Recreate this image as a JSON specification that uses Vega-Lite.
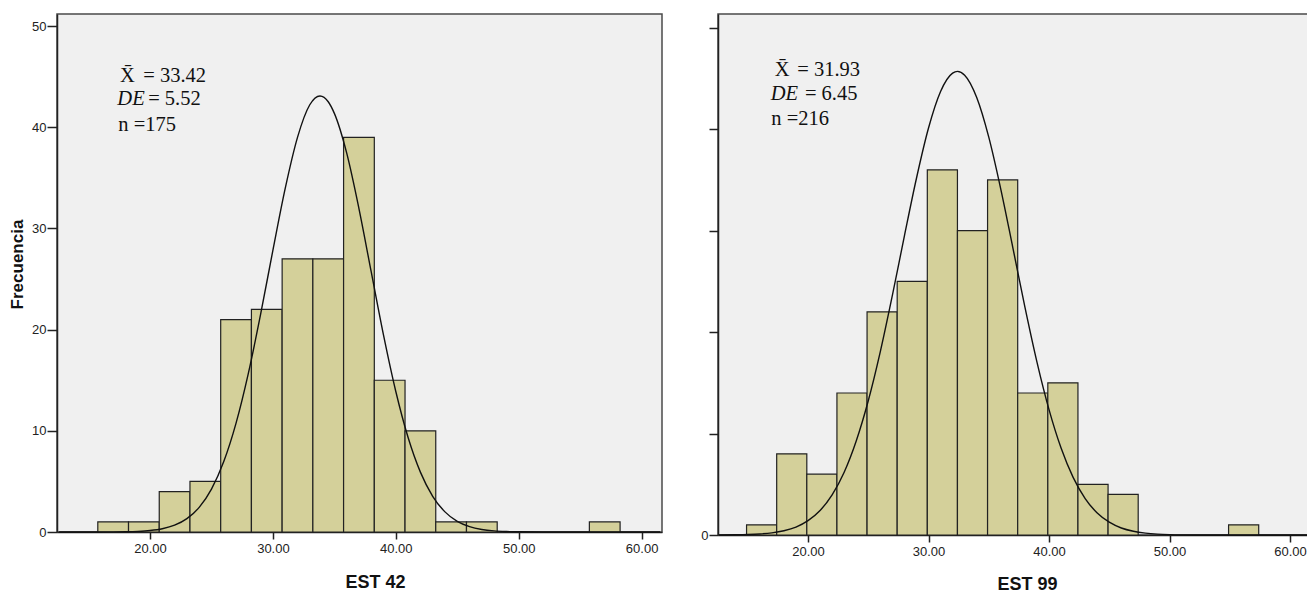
{
  "$schema": "https://vega.github.io/schema/vega-lite/v6.json",
  "background": "white",
  "padding": {"left": 7, "top": 13, "right": 0, "bottom": 0},
  "spacing": 36,
  "config": {
    "view": {"fill": "#F0F0F0", "stroke": "#4a4a4a", "strokeWidth": 1.5},
    "axis": {
      "grid": false,
      "labelFont": "Liberation Sans",
      "labelFontSize": 13,
      "labelColor": "#222222",
      "tickColor": "#222222",
      "domainColor": "#222222",
      "domainWidth": 1.5,
      "tickWidth": 1.5,
      "titleFont": "Liberation Sans",
      "titleFontWeight": "bold",
      "titleColor": "#111111"
    },
    "text": {"font": "Liberation Serif", "fontSize": 20.5, "color": "#111111", "align": "left", "baseline": "alphabetic"}
  },
  "datasets": {
    "est42_bins": [
      {"lo": 15.75, "hi": 18.25, "freq": 1},
      {"lo": 18.25, "hi": 20.75, "freq": 1},
      {"lo": 20.75, "hi": 23.25, "freq": 4},
      {"lo": 23.25, "hi": 25.75, "freq": 5},
      {"lo": 25.75, "hi": 28.25, "freq": 21},
      {"lo": 28.25, "hi": 30.75, "freq": 22},
      {"lo": 30.75, "hi": 33.25, "freq": 27},
      {"lo": 33.25, "hi": 35.75, "freq": 27},
      {"lo": 35.75, "hi": 38.25, "freq": 39},
      {"lo": 38.25, "hi": 40.75, "freq": 15},
      {"lo": 40.75, "hi": 43.25, "freq": 10},
      {"lo": 43.25, "hi": 45.75, "freq": 1},
      {"lo": 45.75, "hi": 48.25, "freq": 1},
      {"lo": 55.75, "hi": 58.25, "freq": 1}
    ],
    "est42_curve": [
      {"x": 12.6, "y": 0}, {"x": 15, "y": 0.001}, {"x": 16, "y": 0.003}, {"x": 17, "y": 0.009},
      {"x": 18, "y": 0.025}, {"x": 19, "y": 0.062}, {"x": 20, "y": 0.146}, {"x": 21, "y": 0.32},
      {"x": 22, "y": 0.67}, {"x": 23, "y": 1.32}, {"x": 24, "y": 2.43}, {"x": 25, "y": 4.24},
      {"x": 26, "y": 6.96}, {"x": 27, "y": 10.76}, {"x": 28, "y": 15.68}, {"x": 29, "y": 21.53},
      {"x": 30, "y": 27.86}, {"x": 31, "y": 33.96}, {"x": 32, "y": 39.01}, {"x": 33, "y": 42.23},
      {"x": 33.83, "y": 43.1}, {"x": 34.5, "y": 42.53}, {"x": 35, "y": 41.38}, {"x": 36, "y": 37.47},
      {"x": 37, "y": 31.97}, {"x": 38, "y": 25.7}, {"x": 39, "y": 19.46}, {"x": 40, "y": 13.89},
      {"x": 41, "y": 9.34}, {"x": 42, "y": 5.92}, {"x": 43, "y": 3.53}, {"x": 44, "y": 1.99},
      {"x": 45, "y": 1.05}, {"x": 46, "y": 0.53}, {"x": 47, "y": 0.25}, {"x": 48, "y": 0.11},
      {"x": 49, "y": 0.046}, {"x": 50, "y": 0.018}, {"x": 52, "y": 0.002}, {"x": 55, "y": 0},
      {"x": 61.5, "y": 0}
    ],
    "est99_bins": [
      {"lo": 14.9, "hi": 17.4, "freq": 1},
      {"lo": 17.4, "hi": 19.9, "freq": 8},
      {"lo": 19.9, "hi": 22.4, "freq": 6},
      {"lo": 22.4, "hi": 24.9, "freq": 14},
      {"lo": 24.9, "hi": 27.4, "freq": 22},
      {"lo": 27.4, "hi": 29.9, "freq": 25},
      {"lo": 29.9, "hi": 32.4, "freq": 36},
      {"lo": 32.4, "hi": 34.9, "freq": 30},
      {"lo": 34.9, "hi": 37.4, "freq": 35},
      {"lo": 37.4, "hi": 39.9, "freq": 14},
      {"lo": 39.9, "hi": 42.4, "freq": 15},
      {"lo": 42.4, "hi": 44.9, "freq": 5},
      {"lo": 44.9, "hi": 47.4, "freq": 4},
      {"lo": 54.9, "hi": 57.4, "freq": 1}
    ],
    "est99_curve": [
      {"x": 12.6, "y": 0.006}, {"x": 14, "y": 0.021}, {"x": 15, "y": 0.048}, {"x": 16, "y": 0.104},
      {"x": 17, "y": 0.213}, {"x": 18, "y": 0.42}, {"x": 19, "y": 0.78}, {"x": 20, "y": 1.41},
      {"x": 21, "y": 2.41}, {"x": 22, "y": 3.95}, {"x": 23, "y": 6.18}, {"x": 24, "y": 9.26},
      {"x": 25, "y": 13.23}, {"x": 26, "y": 18.08}, {"x": 27, "y": 23.62}, {"x": 28, "y": 29.49},
      {"x": 29, "y": 35.17}, {"x": 30, "y": 40.12}, {"x": 31, "y": 43.72}, {"x": 32, "y": 45.53},
      {"x": 32.4, "y": 45.7}, {"x": 33, "y": 45.33}, {"x": 34, "y": 43.13}, {"x": 35, "y": 39.22},
      {"x": 36, "y": 34.08}, {"x": 37, "y": 28.31}, {"x": 38, "y": 22.47}, {"x": 39, "y": 17.05},
      {"x": 40, "y": 12.36}, {"x": 41, "y": 8.57}, {"x": 42, "y": 5.68}, {"x": 43, "y": 3.59},
      {"x": 44, "y": 2.17}, {"x": 45, "y": 1.26}, {"x": 46, "y": 0.69}, {"x": 47, "y": 0.37},
      {"x": 48, "y": 0.19}, {"x": 49, "y": 0.09}, {"x": 50, "y": 0.041}, {"x": 52, "y": 0.007},
      {"x": 55, "y": 0}, {"x": 61.7, "y": 0}
    ],
    "one": [{}]
  },
  "hconcat": [
    {
      "width": 605,
      "height": 518,
      "layer": [
        {
          "data": {"name": "est42_bins"},
          "mark": {"type": "rect", "fill": "#D4D09A", "stroke": "#222222", "strokeWidth": 1.2},
          "encoding": {
            "x": {
              "field": "lo", "type": "quantitative",
              "scale": {"domain": [12.43, 61.66], "nice": false, "zero": false},
              "axis": {
                "values": [20, 30, 40, 50, 60], "format": ".2f", "tickSize": 7, "labelPadding": 3,
                "title": "EST 42", "titleFontSize": 18, "titleX": 318, "titleY": 41, "titleAnchor": null, "titleAlign": "center"
              }
            },
            "x2": {"field": "hi"},
            "y": {
              "field": "freq", "type": "quantitative",
              "scale": {"domain": [0, 51.2], "nice": false},
              "axis": {
                "values": [0, 10, 20, 30, 40, 50], "tickSize": 10, "labelPadding": 1,
                "title": "Frecuencia", "titleFontSize": 17, "titleX": -31, "titleY": 250, "titleAnchor": null, "titleAlign": "center"
              }
            },
            "y2": {"datum": 0}
          }
        },
        {
          "data": {"name": "est42_curve"},
          "mark": {"type": "line", "color": "#111111", "strokeWidth": 1.4, "interpolate": "monotone"},
          "encoding": {
            "x": {"field": "x", "type": "quantitative"},
            "y": {"field": "y", "type": "quantitative"}
          }
        },
        {
          "data": {"name": "one"},
          "mark": {"type": "text", "text": "X\u0304"},
          "encoding": {"x": {"datum": 17.56}, "y": {"datum": 44.47}}
        },
        {
          "data": {"name": "one"},
          "mark": {"type": "text", "text": "= 33.42"},
          "encoding": {"x": {"datum": 19.45}, "y": {"datum": 44.47}}
        },
        {
          "data": {"name": "one"},
          "mark": {"type": "text", "text": "DE", "fontStyle": "italic"},
          "encoding": {"x": {"datum": 17.34}, "y": {"datum": 42.16}}
        },
        {
          "data": {"name": "one"},
          "mark": {"type": "text", "text": "= 5.52"},
          "encoding": {"x": {"datum": 19.85}, "y": {"datum": 42.16}}
        },
        {
          "data": {"name": "one"},
          "mark": {"type": "text", "text": "n =175"},
          "encoding": {"x": {"datum": 17.42}, "y": {"datum": 39.62}}
        }
      ]
    },
    {
      "width": 593,
      "height": 521,
      "layer": [
        {
          "data": {"name": "est99_bins"},
          "mark": {"type": "rect", "fill": "#D4D09A", "stroke": "#222222", "strokeWidth": 1.2},
          "encoding": {
            "x": {
              "field": "lo", "type": "quantitative",
              "scale": {"domain": [12.53, 61.74], "nice": false, "zero": false},
              "axis": {
                "values": [20, 30, 40, 50, 60], "format": ".2f", "tickSize": 7, "labelPadding": 3,
                "title": "EST 99", "titleFontSize": 18, "titleX": 309, "titleY": 40, "titleAnchor": null, "titleAlign": "center"
              }
            },
            "x2": {"field": "hi"},
            "y": {
              "field": "freq", "type": "quantitative",
              "scale": {"domain": [0, 51.36], "nice": false},
              "axis": {
                "values": [0, 10, 20, 30, 40, 50], "tickSize": 9, "labelPadding": 1,
                "labelExpr": "datum.value === 0 ? '0' : ''", "title": null
              }
            },
            "y2": {"datum": 0}
          }
        },
        {
          "data": {"name": "est99_curve"},
          "mark": {"type": "line", "color": "#111111", "strokeWidth": 1.4, "interpolate": "monotone"},
          "encoding": {
            "x": {"field": "x", "type": "quantitative"},
            "y": {"field": "y", "type": "quantitative"}
          }
        },
        {
          "data": {"name": "one"},
          "mark": {"type": "text", "text": "X\u0304"},
          "encoding": {"x": {"datum": 17.23}, "y": {"datum": 45.25}}
        },
        {
          "data": {"name": "one"},
          "mark": {"type": "text", "text": "= 31.93"},
          "encoding": {"x": {"datum": 19.11}, "y": {"datum": 45.25}}
        },
        {
          "data": {"name": "one"},
          "mark": {"type": "text", "text": "DE", "fontStyle": "italic"},
          "encoding": {"x": {"datum": 16.9}, "y": {"datum": 42.89}}
        },
        {
          "data": {"name": "one"},
          "mark": {"type": "text", "text": "= 6.45"},
          "encoding": {"x": {"datum": 19.74}, "y": {"datum": 42.89}}
        },
        {
          "data": {"name": "one"},
          "mark": {"type": "text", "text": "n =216"},
          "encoding": {"x": {"datum": 16.95}, "y": {"datum": 40.42}}
        }
      ]
    }
  ]
}
